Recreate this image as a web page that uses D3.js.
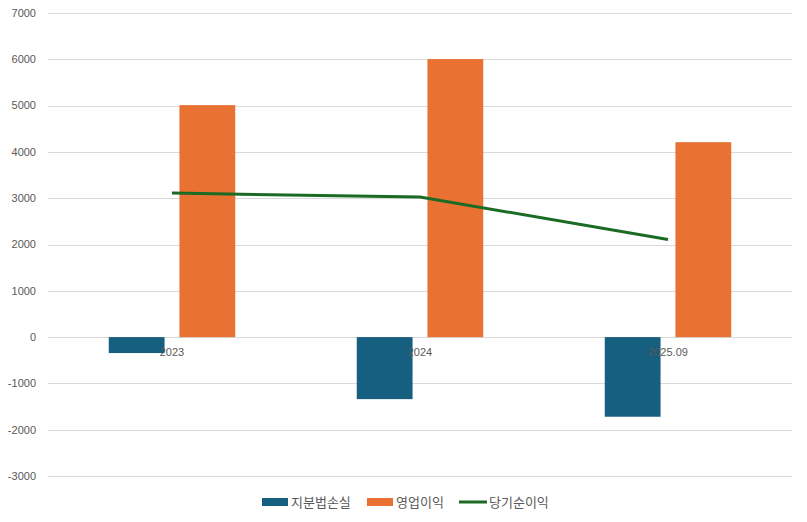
<!DOCTYPE html>
<html>
<head>
<meta charset="utf-8">
<script src="https://cdn.jsdelivr.net/npm/d3@7"></script>
<style>
  body { margin: 0; background: #fff; }
  text { font-family: "Liberation Sans", Arial, "Noto Sans CJK KR", sans-serif; }
</style>
</head>
<body>
<div id="chart"></div>
<script>
// chart data
const categories = ['2023', '2024', '2025.09'];
const equityLoss = [-345, -1340, -1720];     // 지분법손실
const operatingProfit = [5010, 6005, 4210];  // 영업이익
const netIncome = [3110, 3025, 2110];        // 당기순이익
const yTicks = [-3000, -2000, -1000, 0, 1000, 2000, 3000, 4000, 5000, 6000, 7000];
const seriesNames = ['지분법손실', '영업이익', '당기순이익'];

const width = 807;
const height = 522;
const margin = { top: 13, right: 15, bottom: 46, left: 48 };
const colors = { loss: '#175f80', op: '#e97132', net: '#1b6b25' };

const svg = d3.select('#chart').append('svg')
  .attr('width', width)
  .attr('height', height);

const x = d3.scaleBand()
  .domain(categories)
  .range([margin.left, width - margin.right]);

const y = d3.scaleLinear()
  .domain([-3000, 7000])
  .range([height - margin.bottom, margin.top]);

const barW = x.bandwidth() * 0.225;
const gap = x.bandwidth() * 0.06;

// grid + y labels
svg.append('g')
  .selectAll('line')
  .data(yTicks)
  .enter().append('line')
  .attr('x1', margin.left)
  .attr('x2', width - margin.right)
  .attr('y1', (d) => Math.round(y(d)) + 0.5)
  .attr('y2', (d) => Math.round(y(d)) + 0.5)
  .attr('stroke', '#d9d9d9')
  .attr('stroke-width', 1);

svg.append('g')
  .selectAll('text')
  .data(yTicks)
  .enter().append('text')
  .attr('x', 36)
  .attr('y', (d) => y(d))
  .attr('dy', '0.35em')
  .attr('text-anchor', 'end')
  .attr('font-size', 11)
  .attr('fill', '#595959')
  .text((d) => d);

// bars
svg.append('g')
  .selectAll('rect')
  .data(categories)
  .enter().append('rect')
  .attr('x', (d) => x(d) + x.bandwidth() / 2 - gap / 2 - barW)
  .attr('y', (d, i) => y(Math.max(0, equityLoss[i])))
  .attr('width', barW)
  .attr('height', (d, i) => Math.abs(y(equityLoss[i]) - y(0)))
  .attr('fill', colors.loss);

svg.append('g')
  .selectAll('rect')
  .data(categories)
  .enter().append('rect')
  .attr('x', (d) => x(d) + x.bandwidth() / 2 + gap / 2)
  .attr('y', (d, i) => y(operatingProfit[i]))
  .attr('width', barW)
  .attr('height', (d, i) => y(0) - y(operatingProfit[i]))
  .attr('fill', colors.op);

// x labels sit just under the zero line
svg.append('g')
  .selectAll('text')
  .data(categories)
  .enter().append('text')
  .attr('x', (d) => x(d) + x.bandwidth() / 2)
  .attr('y', y(0) + 19)
  .attr('text-anchor', 'middle')
  .attr('font-size', 11)
  .attr('fill', '#595959')
  .text((d) => d);

// net income line
const line = d3.line()
  .x((d, i) => x(categories[i]) + x.bandwidth() / 2)
  .y((d) => y(d));

svg.append('path')
  .datum(netIncome)
  .attr('d', line)
  .attr('fill', 'none')
  .attr('stroke', colors.net)
  .attr('stroke-width', 3)
  .attr('stroke-linejoin', 'round');

// legend
const legend = svg.append('g').attr('transform', 'translate(0, 502)');
const items = [
  { name: seriesNames[0], color: colors.loss, type: 'rect', x: 262 },
  { name: seriesNames[1], color: colors.op, type: 'rect', x: 367 },
  { name: seriesNames[2], color: colors.net, type: 'line', x: 459 },
];

items.forEach((it) => {
  if (it.type === 'rect') {
    legend.append('rect')
      .attr('x', it.x).attr('y', -4)
      .attr('width', 26).attr('height', 8)
      .attr('fill', it.color);
  } else {
    legend.append('line')
      .attr('x1', it.x).attr('x2', it.x + 28)
      .attr('y1', 0).attr('y2', 0)
      .attr('stroke', it.color).attr('stroke-width', 3);
  }
  legend.append('text')
    .attr('x', it.x + (it.type === 'rect' ? 29 : 30))
    .attr('y', 0)
    .attr('dy', '0.35em')
    .attr('font-size', 13)
    .attr('fill', '#595959')
    .style('font-family', '"Noto Sans CJK KR", sans-serif')
    .text(it.name);
});
</script>
</body>
</html>
